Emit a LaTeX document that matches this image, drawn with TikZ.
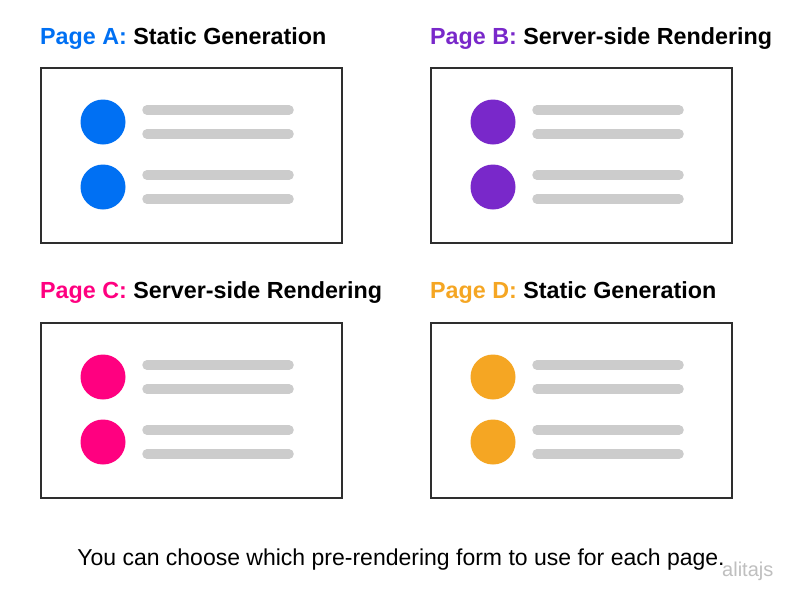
\documentclass[tikz,border=0pt]{standalone}
\usepackage{fontspec}
\setmainfont{Liberation Sans}
\usetikzlibrary{positioning}

\definecolor{pageA}{HTML}{0070F3}
\definecolor{pageB}{HTML}{7928CA}
\definecolor{pageC}{HTML}{FF0080}
\definecolor{pageD}{HTML}{F5A623}
\definecolor{bargray}{HTML}{CCCCCC}
\definecolor{framegray}{HTML}{2E2E2E}

\begin{document}
\begin{tikzpicture}[
  x=1pt, y=-1pt,
  title/.style={anchor=base west, inner sep=0pt, font=\fontsize{23.3}{26}\selectfont\bfseries},
  card/.style={draw=framegray, line width=1.8pt, fill=white, anchor=north west, minimum width=301pt, minimum height=175pt, inner sep=0pt},
  dot/.style={circle, minimum size=45pt, inner sep=0pt},
  bar/.style={draw=bargray, line width=9.5pt, line cap=round}
]
\useasboundingbox[fill=white] (0,0) rectangle (798,606);

% titles
\node[title] (tA) at (40,44) {\textcolor{pageA}{Page A:} Static Generation};
\node[title] (tB) at (430,44) {\textcolor{pageB}{Page B:} Server-side Rendering};
\node[title] (tC) at (40,298) {\textcolor{pageC}{Page C:} Server-side Rendering};
\node[title] (tD) at (430,298) {\textcolor{pageD}{Page D:} Static Generation};

% page A
\node[card] (pA) at (40,67) {};
\node[dot, fill=pageA] (dA1) at (103,122) {};
\node[dot, fill=pageA] (dA2) at (103,187) {};
\draw[bar] (147,110) -- (289,110); \draw[bar] (147,134) -- (289,134);
\draw[bar] (147,175) -- (289,175); \draw[bar] (147,199) -- (289,199);

% page B
\node[card] (pB) at (430,67) {};
\node[dot, fill=pageB] (dB1) at (493,122) {};
\node[dot, fill=pageB] (dB2) at (493,187) {};
\draw[bar] (537,110) -- (679,110); \draw[bar] (537,134) -- (679,134);
\draw[bar] (537,175) -- (679,175); \draw[bar] (537,199) -- (679,199);

% page C
\node[card] (pC) at (40,322) {};
\node[dot, fill=pageC] (dC1) at (103,377) {};
\node[dot, fill=pageC] (dC2) at (103,442) {};
\draw[bar] (147,365) -- (289,365); \draw[bar] (147,389) -- (289,389);
\draw[bar] (147,430) -- (289,430); \draw[bar] (147,454) -- (289,454);

% page D
\node[card] (pD) at (430,322) {};
\node[dot, fill=pageD] (dD1) at (493,377) {};
\node[dot, fill=pageD] (dD2) at (493,442) {};
\draw[bar] (537,365) -- (679,365); \draw[bar] (537,389) -- (679,389);
\draw[bar] (537,430) -- (679,430); \draw[bar] (537,454) -- (679,454);

% caption
\node[anchor=base, inner sep=0pt, font=\fontsize{23}{26}\selectfont] (note) at (401,565) {You can choose which pre-rendering form to use for each page.};
\node[anchor=base west, inner sep=0pt, text=black!25, font=\fontsize{20}{22}\selectfont] (mark) at (722,576) {alitajs};
\end{tikzpicture}
\end{document}
